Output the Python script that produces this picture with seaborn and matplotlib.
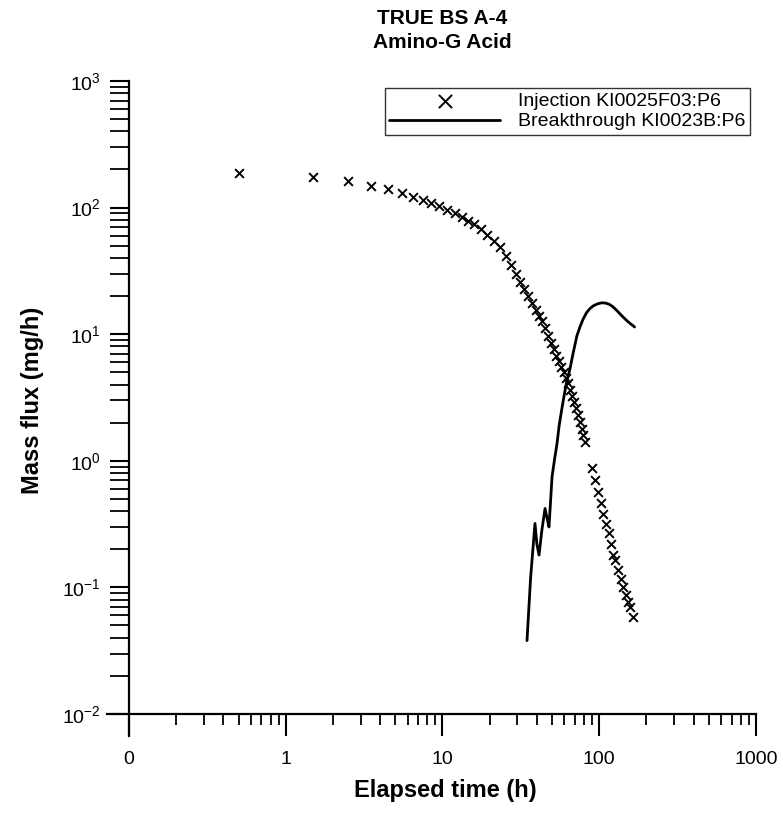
import numpy as np
import pandas as pd
import matplotlib
matplotlib.use("Agg")
import matplotlib.pyplot as plt
import matplotlib.ticker as mticker
import seaborn as sns

# ---- data ----
inj_time = [0.5, 1.5, 2.5, 3.5, 4.5, 5.5, 6.5, 7.5, 8.5, 9.5,
            10.75, 12.0, 13.25, 14.5, 16.0, 17.5, 19.25, 21.25, 23.25,
            25.25, 27.25, 29.25, 31.25, 33.25, 35.25, 37.25, 39.25, 41.25, 43.25,
            45.25, 47.25, 49.25, 51.25, 53.25, 55.25, 57.25, 59.25, 61.25, 63.25,
            65.25, 67.25, 69.25, 71.25, 73.25, 75.25, 77.25, 79.25, 81.25,
            90, 94, 98, 102.5, 105.5, 110, 115, 119, 122, 126, 132, 138, 142,
            148, 152, 158, 164]
inj_flux = [188, 175, 162, 148, 140, 130, 121, 115, 109, 103,
            96, 91, 84, 78, 74, 68, 61, 54, 49,
            41.5, 35.2, 30.1, 26.0, 22.7, 19.9, 17.6, 15.6, 14.0, 12.6,
            11.1, 9.7, 8.57, 7.6, 6.77, 6.09, 5.50, 4.99, 4.54, 4.09,
            3.64, 3.25, 2.91, 2.62, 2.32, 2.04, 1.79, 1.59, 1.41,
            0.877, 0.705, 0.567, 0.464, 0.380, 0.317, 0.269, 0.220, 0.180,
            0.165, 0.137, 0.116, 0.101, 0.087, 0.077, 0.070, 0.058]

bt_time = [34.6, 36.5, 38.9, 40.0, 41.3, 43.0, 45.1, 46.5, 47.8, 50.0,
           52.0, 53.7, 55.5, 57.5, 60.0, 62.2, 65.0, 68.0, 72.0, 75.5,
           79.0, 83.0, 87.0, 92.0, 98.0, 104, 110, 116, 122, 128,
           134, 140, 146, 152, 158, 164, 168]
bt_flux = [0.038, 0.12, 0.32, 0.22, 0.18, 0.28, 0.42, 0.35, 0.30, 0.75,
           1.05, 1.35, 1.9, 2.5, 3.4, 4.3, 5.3, 7.0, 9.7, 11.5,
           13.2, 14.8, 15.9, 16.8, 17.4, 17.7, 17.6, 17.2, 16.5, 15.6,
           14.7, 13.9, 13.2, 12.6, 12.1, 11.7, 11.4]

x_ticks = [0.1, 1, 10, 100, 1000]
x_tick_labels = ["0", "1", "10", "100", "1000"]
y_ticks = [0.01, 0.1, 1, 10, 100, 1000]
y_tick_labels = ["$10^{-2}$", "$10^{-1}$", "$10^{0}$", "$10^{1}$", "$10^{2}$", "$10^{3}$"]

inj_label = "Injection KI0025F03:P6"
bt_label = "Breakthrough KI0023B:P6"
title_text = "TRUE BS A-4\nAmino-G Acid"
x_title = "Elapsed time (h)"
y_title = "Mass flux (mg/h)"

# ---- style ----
sns.set_theme(style="ticks")
plt.rcParams["font.family"] = ["Liberation Sans", "DejaVu Sans"]
plt.rcParams["mathtext.fontset"] = "custom"
plt.rcParams["mathtext.rm"] = "Liberation Sans"
plt.rcParams["mathtext.it"] = "Liberation Sans"
plt.rcParams["mathtext.bf"] = "Liberation Sans:bold"
for k in ["text.color", "axes.labelcolor", "xtick.color", "ytick.color", "axes.edgecolor"]:
    plt.rcParams[k] = "black"

W, H = 783, 813
fig = plt.figure(figsize=(W / 100, H / 100), dpi=100)
fig.patch.set_facecolor("white")

ax_l, ax_r, ax_t, ax_b = 107, 756, 81, 736
ax = fig.add_axes([ax_l / W, 1 - ax_b / H, (ax_r - ax_l) / W, (ax_b - ax_t) / H])
ax.set_facecolor("white")

inj_df = pd.DataFrame({"time": inj_time, "flux": inj_flux})
bt_df = pd.DataFrame({"time": bt_time, "flux": bt_flux})

sns.lineplot(data=bt_df, x="time", y="flux", ax=ax, color="black", lw=2.0,
             sort=False, estimator=None, label=bt_label, zorder=2)
sns.scatterplot(data=inj_df, x="time", y="flux", ax=ax, marker="x", color="black",
                s=40, linewidth=1.4, label=inj_label, zorder=3)

ax.set_xscale("log")
ax.set_yscale("log")
ax.set_xlim(0.0724, 1000)
ax.set_ylim(0.0067, 1000)

# axes crossing like the reference
for s in ["top", "right"]:
    ax.spines[s].set_visible(False)
ax.spines["left"].set_position(("data", 0.1))
ax.spines["bottom"].set_position(("data", 0.01))
for s in ["left", "bottom"]:
    ax.spines[s].set_linewidth(1.6)
    ax.spines[s].set_color("black")

minor_x = [m * 10.0 ** e for e in range(-1, 3) for m in range(2, 10)]
minor_y = [m * 10.0 ** e for e in range(-2, 3) for m in range(2, 10)]

ax.xaxis.set_major_locator(mticker.FixedLocator(x_ticks))
ax.xaxis.set_major_formatter(mticker.FixedFormatter(x_tick_labels))
ax.xaxis.set_minor_locator(mticker.FixedLocator(minor_x))
ax.xaxis.set_minor_formatter(mticker.NullFormatter())

ax.yaxis.set_major_locator(mticker.FixedLocator(y_ticks))
ax.yaxis.set_major_formatter(mticker.FixedFormatter(y_tick_labels))
ax.yaxis.set_minor_locator(mticker.FixedLocator(minor_y))
ax.yaxis.set_minor_formatter(mticker.NullFormatter())

ax.tick_params(axis="x", which="major", direction="out", length=16, width=1.5,
               labelsize=14, pad=11)
ax.tick_params(axis="x", which="minor", direction="out", length=8, width=1.3)
ax.tick_params(axis="y", which="major", direction="out", length=13.5, width=1.5,
               labelsize=14, pad=7)
ax.tick_params(axis="y", which="minor", direction="out", length=13.5, width=1.3)

ax.set_xlabel(x_title, fontsize=17, fontweight="bold")
ax.set_ylabel(y_title, fontsize=17, fontweight="bold")
ax.xaxis.set_label_coords((445 - ax_l) / (ax_r - ax_l), (ax_b - 779) / (ax_b - ax_t))
ax.yaxis.set_label_coords((44 - ax_l) / (ax_r - ax_l), (ax_b - 400) / (ax_b - ax_t))

fig.text(442 / W, 1 - 9 / H, title_text, ha="center", va="top",
         fontsize=15, fontweight="bold", linespacing=1.3)

handles, labels = ax.get_legend_handles_labels()
order = [labels.index(inj_label), labels.index(bt_label)]
leg = ax.legend([handles[i] for i in order], [labels[i] for i in order],
                loc="upper right",
                bbox_to_anchor=((750 - ax_l) / (ax_r - ax_l), (ax_b - 88) / (ax_b - ax_t)),
                frameon=True, fancybox=False, shadow=False, fontsize=14,
                handlelength=5.7, handletextpad=0.9, borderpad=0.25,
                labelspacing=0.12, markerscale=1.5, borderaxespad=0)
leg.get_frame().set_edgecolor("black")
leg.get_frame().set_linewidth(1.0)

fig.savefig("out.png", dpi=100, facecolor="white")
